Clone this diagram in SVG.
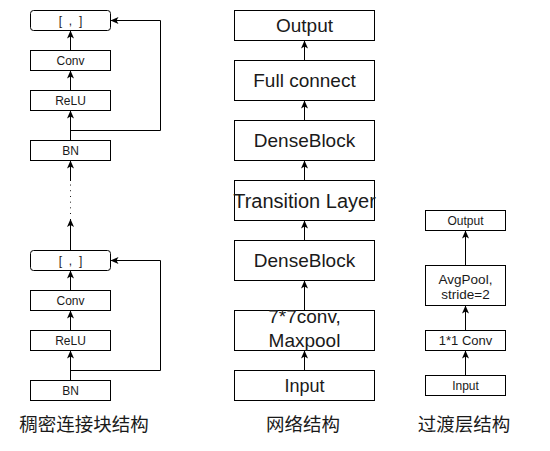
<svg xmlns="http://www.w3.org/2000/svg" width="550" height="451" viewBox="0 0 550 451">
<style>
.box{fill:#fff;stroke:#000;stroke-width:1}
.ln{fill:none;stroke:#000;stroke-width:1}
.t{font-family:"Liberation Sans",Arial,sans-serif;fill:#1a1a1a;text-anchor:middle}
.s{font-size:12px}
.m{font-size:19px}
.cap{font-family:"Liberation Sans","Noto Sans CJK SC",sans-serif;font-size:18.5px;fill:#1a1a1a;text-anchor:middle}
</style>
<defs>
<marker id="arr" viewBox="0 0 8 7" refX="8" refY="3.5" markerWidth="8" markerHeight="7" markerUnits="userSpaceOnUse" orient="auto">
<path d="M0,0 L8,3.5 L0,7 L2,3.5 Z" fill="#000"/>
</marker>
</defs>
<rect width="550" height="451" fill="#fff"/>

<g id="connectors">
<line class="ln" x1="70.5" y1="140" x2="70.5" y2="110.5" marker-end="url(#arr)"/>
<line class="ln" x1="70.5" y1="90" x2="70.5" y2="70.5" marker-end="url(#arr)"/>
<line class="ln" x1="70.5" y1="50" x2="70.5" y2="30.5" marker-end="url(#arr)"/>
<polyline class="ln" points="70.5,130.5 160.5,130.5 160.5,20.5 110.5,20.5" marker-end="url(#arr)"/>
<line class="ln" x1="70.5" y1="181" x2="70.5" y2="160.5" marker-end="url(#arr)"/>
<line class="ln" x1="70.5" y1="185" x2="70.5" y2="217" stroke-width="1.8" stroke="#222" stroke-linecap="round" stroke-dasharray="0.1 5.6"/>
<line class="ln" x1="70.5" y1="250" x2="70.5" y2="219" marker-end="url(#arr)"/>
<line class="ln" x1="70.5" y1="380" x2="70.5" y2="350.5" marker-end="url(#arr)"/>
<line class="ln" x1="70.5" y1="330" x2="70.5" y2="310.5" marker-end="url(#arr)"/>
<line class="ln" x1="70.5" y1="290" x2="70.5" y2="270.5" marker-end="url(#arr)"/>
<polyline class="ln" points="70.5,370.5 160.5,370.5 160.5,260.5 110.5,260.5" marker-end="url(#arr)"/>
<line class="ln" x1="304.5" y1="60" x2="304.5" y2="40.5" marker-end="url(#arr)"/>
<line class="ln" x1="304.5" y1="120" x2="304.5" y2="100.5" marker-end="url(#arr)"/>
<line class="ln" x1="304.5" y1="180" x2="304.5" y2="160.5" marker-end="url(#arr)"/>
<line class="ln" x1="304.5" y1="240" x2="304.5" y2="220.5" marker-end="url(#arr)"/>
<line class="ln" x1="304.5" y1="310" x2="304.5" y2="280.5" marker-end="url(#arr)"/>
<line class="ln" x1="304.5" y1="370" x2="304.5" y2="350.5" marker-end="url(#arr)"/>
<line class="ln" x1="465.5" y1="265" x2="465.5" y2="230.5" marker-end="url(#arr)"/>
<line class="ln" x1="465.5" y1="330" x2="465.5" y2="305.5" marker-end="url(#arr)"/>
<line class="ln" x1="465.5" y1="375" x2="465.5" y2="350.5" marker-end="url(#arr)"/>
</g>

<g id="concat1"><rect class="box" x="30.5" y="10.5" width="80" height="20" rx="3"/><text class="t s" x="70.5" y="25" word-spacing="3.5">[ , ]</text></g>
<g id="conv1"><rect class="box" x="30.5" y="50.5" width="80" height="20"/><text class="t s" x="70.5" y="64.5">Conv</text></g>
<g id="relu1"><rect class="box" x="30.5" y="90.5" width="80" height="20"/><text class="t s" x="70.5" y="104.5">ReLU</text></g>
<g id="bn1"><rect class="box" x="30.5" y="140.5" width="80" height="20"/><text class="t s" x="70.5" y="154.5">BN</text></g>
<g id="concat2"><rect class="box" x="30.5" y="250.5" width="80" height="20" rx="3"/><text class="t s" x="70.5" y="265" word-spacing="3.5">[ , ]</text></g>
<g id="conv2"><rect class="box" x="30.5" y="290.5" width="80" height="20"/><text class="t s" x="70.5" y="304.5">Conv</text></g>
<g id="relu2"><rect class="box" x="30.5" y="330.5" width="80" height="20"/><text class="t s" x="70.5" y="344.5">ReLU</text></g>
<g id="bn2"><rect class="box" x="30.5" y="380.5" width="80" height="20"/><text class="t s" x="70.5" y="394.5">BN</text></g>
<g id="cap1"><text class="cap" x="84" y="431">稠密连接块结构</text></g>

<g id="output"><rect class="box" x="234.5" y="10.5" width="140" height="30"/><text class="t m" x="304.5" y="32">Output</text></g>
<g id="fullconnect"><rect class="box" x="234.5" y="60.5" width="140" height="40"/><text class="t m" x="304.5" y="87">Full connect</text></g>
<g id="dense2"><rect class="box" x="234.5" y="120.5" width="140" height="40"/><text class="t m" x="304.5" y="147">DenseBlock</text></g>
<g id="transition"><rect class="box" x="234.5" y="180.5" width="140" height="40"/><text class="t" font-size="20" x="304.5" y="207.5">Transition Layer</text></g>
<g id="dense1"><rect class="box" x="234.5" y="240.5" width="140" height="40"/><text class="t m" x="304.5" y="267">DenseBlock</text></g>
<g id="conv7"><rect class="box" x="234.5" y="310.5" width="140" height="40"/><text class="t m" x="304.5" y="323">7*7conv,</text><text class="t m" x="304.5" y="347">Maxpool</text></g>
<g id="input"><rect class="box" x="234.5" y="370.5" width="140" height="30"/><text class="t" font-size="18" x="304.5" y="391.5">Input</text></g>
<g id="cap2"><text class="cap" x="303" y="431">网络结构</text></g>

<g id="t_output"><rect class="box" x="425.5" y="210.5" width="80" height="20"/><text class="t s" x="465.5" y="224.5">Output</text></g>
<g id="t_avgpool"><rect class="box" x="425.5" y="265.5" width="80" height="40"/><text class="t" font-size="13.5" x="465.5" y="283.5">AvgPool,</text><text class="t" font-size="13.5" x="465.5" y="299">stride=2</text></g>
<g id="t_conv"><rect class="box" x="425.5" y="330.5" width="80" height="20"/><text class="t" font-size="13" x="465.5" y="345">1*1 Conv</text></g>
<g id="t_input"><rect class="box" x="425.5" y="375.5" width="80" height="20"/><text class="t s" x="465.5" y="390">Input</text></g>
<g id="cap3"><text class="cap" x="464" y="431">过渡层结构</text></g>
</svg>
